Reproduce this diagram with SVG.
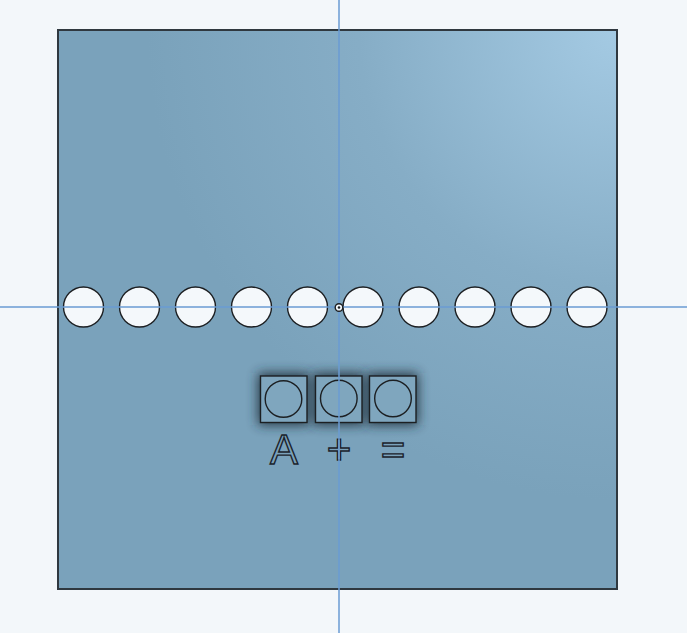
<svg xmlns="http://www.w3.org/2000/svg" width="687" height="633" viewBox="0 0 687 633">
  <defs>
    <radialGradient id="plateGrad" gradientUnits="userSpaceOnUse" cx="617" cy="30" r="470">
      <stop offset="0" stop-color="#a4cae3"/>
      <stop offset="0.55" stop-color="#86adc6"/>
      <stop offset="1" stop-color="#7aa2bb"/>
    </radialGradient>
    <filter id="shadow" x="-60%" y="-60%" width="220%" height="220%">
      <feGaussianBlur stdDeviation="6"/>
    </filter>
    <style>
      .hole { fill: #f4f8fb; stroke: #1c1f22; stroke-width: 1.4; }
      .key { fill: #7fa6be; stroke: #1c1f22; stroke-width: 1.4; }
      .keyhole { fill: none; stroke: #1c1f22; stroke-width: 1.4; }
      .shade { fill: #22313d; opacity: 0.95; filter: url(#shadow); }
      .axis { stroke: #6a9bd3; stroke-width: 1.5; fill: none; }
      .legend { font-family: "Liberation Sans", Arial, sans-serif; font-size: 42px; fill: none; stroke: #1a232b; stroke-width: 1.4; text-anchor: middle; }
    </style>
  </defs>
  <rect width="687" height="633" fill="#f3f7fa"/>
  <g id="plate">
    <rect x="58" y="30" width="559" height="559" fill="url(#plateGrad)" stroke="#2f383f" stroke-width="2"/>
  </g>
  <g id="holes">
    <circle class="hole" cx="83.5" cy="307" r="20"/>
    <circle class="hole" cx="139.5" cy="307" r="20"/>
    <circle class="hole" cx="195.5" cy="307" r="20"/>
    <circle class="hole" cx="251.5" cy="307" r="20"/>
    <circle class="hole" cx="307.5" cy="307" r="20"/>
    <circle class="hole" cx="363" cy="307" r="20"/>
    <circle class="hole" cx="419" cy="307" r="20"/>
    <circle class="hole" cx="475" cy="307" r="20"/>
    <circle class="hole" cx="531" cy="307" r="20"/>
    <circle class="hole" cx="587" cy="307" r="20"/>
  </g>
  <g id="keys">
    <rect class="shade" x="258" y="373" width="51" height="52"/>
    <rect class="shade" x="313" y="373" width="51" height="52"/>
    <rect class="shade" x="367" y="373" width="51" height="52"/>
    <g id="key-a">
      <rect class="key" x="260.5" y="376" width="46.5" height="46.5"/>
      <circle class="keyhole" cx="283.5" cy="399" r="18.3"/>
    </g>
    <g id="key-plus">
      <rect class="key" x="315.5" y="376" width="46.5" height="46.5"/>
      <circle class="keyhole" cx="338.8" cy="398.5" r="18.3"/>
    </g>
    <g id="key-eq">
      <rect class="key" x="369.5" y="376" width="46.5" height="46.5"/>
      <circle class="keyhole" cx="393" cy="398.5" r="18.3"/>
    </g>
  </g>
  <g id="legends">
    <text class="legend" x="284" y="464">A</text>
    <text class="legend" x="339" y="464">+</text>
    <text class="legend" x="393" y="464">=</text>
  </g>
  <g id="axes">
    <line class="axis" x1="0" y1="307" x2="687" y2="307"/>
    <line class="axis" x1="339" y1="0" x2="339" y2="633"/>
  </g>
  <g id="origin">
    <circle cx="339" cy="307.5" r="3.8" fill="#f4f8fb" stroke="#1c1f22" stroke-width="1.4"/>
    <circle cx="339" cy="307.5" r="1.3" fill="#1c1f22"/>
  </g>
</svg>
